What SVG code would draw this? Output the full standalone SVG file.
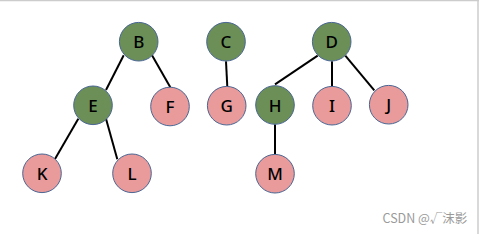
<svg xmlns="http://www.w3.org/2000/svg" width="479" height="234" viewBox="0 0 479 234">
<style>
.g{fill:#6b8f57;stroke:#4a6694;stroke-width:1}
.p{fill:#e99a9a;stroke:#4a6694;stroke-width:1}
.t{font-family:"Noto Sans","Liberation Sans",sans-serif;font-size:17px;font-weight:500;fill:#000;text-anchor:middle;dominant-baseline:central}
.e{stroke:#000;stroke-width:2;fill:none}
.w{font-family:"Noto Sans CJK SC","Noto Sans",sans-serif;font-size:12.5px;fill:#9a9a9a}
</style>
<rect width="479" height="234" fill="#fff"/>
<line x1="0" y1="0.5" x2="479" y2="0.5" stroke="#cccccc" stroke-width="1.5"/>
<line x1="478" y1="0" x2="478" y2="234" stroke="#cccccc" stroke-width="1.5"/>
<g id="connectors">
<line class="e" x1="123.7" y1="55.3" x2="106" y2="90"/>
<line class="e" x1="152" y1="55.3" x2="170.3" y2="87.3"/>
<line class="e" x1="78.3" y1="118.7" x2="55" y2="159"/>
<line class="e" x1="106" y1="118.7" x2="117.3" y2="159.3"/>
<line class="e" x1="226" y1="61.3" x2="227.3" y2="86.7"/>
<line class="e" x1="317.7" y1="55.7" x2="275" y2="84.3"/>
<line class="e" x1="332" y1="61.3" x2="332" y2="86.7"/>
<line class="e" x1="345.3" y1="55.7" x2="374.3" y2="90.3"/>
<line class="e" x1="275" y1="124.3" x2="275" y2="154"/>
</g>
<g id="B"><circle class="g" cx="138.7" cy="41.7" r="19.3"/><text class="t" x="138.7" y="41.7">B</text></g>
<g id="C"><circle class="g" cx="226" cy="41.7" r="19.3"/><text class="t" x="226" y="41.7">C</text></g>
<g id="D"><circle class="g" cx="331.7" cy="41.7" r="19.3"/><text class="t" x="331.7" y="41.7">D</text></g>
<g id="E"><circle class="g" cx="93" cy="105.3" r="19.3"/><text class="t" x="93" y="105.3">E</text></g>
<g id="F"><circle class="p" cx="170" cy="106.5" r="19.3"/><text class="t" x="170" y="106.5">F</text></g>
<g id="G"><circle class="p" cx="226.7" cy="105.7" r="19.3"/><text class="t" x="226.7" y="105.7">G</text></g>
<g id="H"><circle class="g" cx="275" cy="105" r="19.3"/><text class="t" x="275" y="105">H</text></g>
<g id="I"><circle class="p" cx="332" cy="105.7" r="19.3"/><text class="t" x="332" y="105.7">I</text></g>
<g id="J"><circle class="p" cx="388.7" cy="104.7" r="19.3"/><text class="t" x="388.7" y="104.7">J</text></g>
<g id="K"><circle class="p" cx="42" cy="173.3" r="19.3"/><text class="t" x="42" y="173.3">K</text></g>
<g id="L"><circle class="p" cx="132" cy="173.3" r="19.3"/><text class="t" x="132" y="173.3">L</text></g>
<g id="M"><circle class="p" cx="275" cy="173.7" r="19.3"/><text class="t" x="275" y="173.7">M</text></g>
<text class="w" x="382.5" y="222.5">CSDN @√沫影</text>
</svg>
